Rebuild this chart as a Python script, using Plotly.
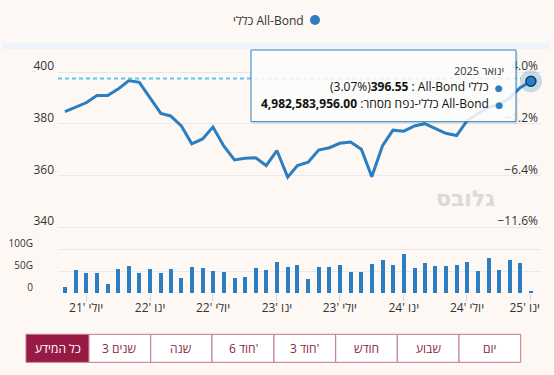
import plotly.graph_objects as go
import pandas as pd

# ---------------- data ----------------
months = pd.date_range("2021-05-01", "2025-01-01", freq="MS")

price = [384.74, 386.5, 388.2, 391.0, 391.0, 393.5, 396.8, 396.1,
         390.2, 384.1, 383.1, 379.2, 372.3, 374.2, 378.8, 371.5, 366.1, 366.7, 366.9, 363.9,
         369.7, 359.4, 363.9, 365.2, 369.9, 370.8, 372.5, 373.0, 370.2, 359.6, 371.6, 377.6,
         377.2, 379.2, 380.1, 378.2, 376.4, 375.5, 381.2, 384.0, 386.5, 387.5, 390.0, 394.0,
         396.55]

volume_g = [14, 52, 45, 45, 21, 54, 62, 45,
            54, 45, 54, 34, 59, 57, 50, 48, 34, 36, 57, 52,
            71, 59, 64, 32, 59, 59, 64, 48, 48, 66, 76, 64,
            88, 57, 68, 61, 61, 64, 71, 50, 80, 52, 76, 69,
            4.982583956]

tick_dates = ["2021-07-01", "2022-01-01", "2022-07-01", "2023-01-01",
              "2023-07-01", "2024-01-01", "2024-07-01", "2025-01-01"]
tick_labels = ["יולי '21", "ינו '22", "יולי '22", "ינו '23",
               "יולי '23", "ינו '24", "יולי '24", "ינו '25"]

price_ticks = [340, 360, 380, 400]
vol_ticks = [0, 50, 100]
vol_tick_labels = ["0", "50G", "100G"]

legend_name = "כללי All-Bond"
tooltip_date = "ינואר 2025"
range_buttons = ["כל המידע", "3 שנים", "שנה", "6 חוד'", "3 חוד'", "חודש", "שבוע", "יום"]
watermark = "גלובס"
crosshair_level = 397.6

# ---------------- styling / geometry ----------------
W, H = 554, 375
ML, MR, MT, MB = 58, 13, 40, 82
PW, PH = W - ML - MR, H - MT - MB
BG = "#fdf8f3"
BLUE = "#2b7ec1"
GRID = "#e6e9ef"
TXT = "#333333"
FONT = "Open Sans, Noto Sans, DejaVu Sans, sans-serif"
LRE, PDF = "\u202a", "\u202c"


def ltr(s):
    return LRE + s + PDF


def px2x(px):
    return (px - ML) / PW


def py2y(py):
    return (H - MB - py) / PH


base = price[0]
pct_labels = [("%.1f%%" % ((v / base - 1) * 100)).replace("-", "\u2212") for v in price_ticks]

# last x label is justified inside the plot (as in the original)
x_ticktext = [ltr(t) for t in tick_labels]
x_ticktext[-1] = ltr(tick_labels[-1] + "\u00a0" * 4)

fig = go.Figure()

fig.add_trace(go.Scatter(x=months, y=price, mode="lines",
                         line=dict(color=BLUE, width=3), xaxis="x", yaxis="y",
                         hoverinfo="skip", showlegend=False))
# invisible companion on the percentage axis so that axis gets drawn
fig.add_trace(go.Scatter(x=months, y=price, mode="lines",
                         line=dict(color="rgba(0,0,0,0)", width=0), xaxis="x", yaxis="y3",
                         hoverinfo="skip", showlegend=False))
fig.add_trace(go.Bar(x=months, y=volume_g, marker=dict(color=BLUE, line=dict(width=0)),
                     width=11.5 * 86400000, xaxis="x2", yaxis="y2",
                     hoverinfo="skip", showlegend=False))
# hovered point halo + marker
fig.add_trace(go.Scatter(x=[months[-1]], y=[price[-1]], mode="markers",
                         marker=dict(size=22, color="rgba(43,126,193,0.25)"),
                         xaxis="x", yaxis="y", hoverinfo="skip", showlegend=False, cliponaxis=False))
fig.add_trace(go.Scatter(x=[months[-1]], y=[price[-1]], mode="markers",
                         marker=dict(size=10, color=BLUE, line=dict(color="#1b3a57", width=1.5)),
                         xaxis="x", yaxis="y", hoverinfo="skip", showlegend=False, cliponaxis=False))

xrange = ["2021-04-11", "2025-01-30"]
yr = [339.34, 412.5]

fig.update_layout(
    width=W, height=H,
    margin=dict(l=ML, r=MR, t=MT, b=MB, pad=0, autoexpand=False),
    paper_bgcolor=BG, plot_bgcolor=BG,
    font=dict(family=FONT, size=12, color=TXT),
    showlegend=False,
    bargap=0,
    xaxis=dict(domain=[0, 1], range=xrange, anchor="y", showticklabels=False,
               showgrid=False, zeroline=False, showline=False, ticks="", automargin=False),
    xaxis2=dict(domain=[0, 1], range=xrange, matches="x", anchor="y2",
                tickvals=tick_dates, ticktext=x_ticktext,
                ticks="outside", ticklen=7, tickcolor="#ccd6eb", tickwidth=1,
                ticklabelstandoff=-3, ticklabeloverflow="allow",
                showgrid=False, zeroline=False, showline=False, automargin=False,
                tickfont=dict(size=12, color=TXT)),
    yaxis=dict(domain=[0.253, 1.0], range=yr, anchor="x",
               tickvals=price_ticks, ticktext=[str(v) for v in price_ticks],
               showgrid=True, gridcolor=GRID, gridwidth=1, zeroline=False, showline=False,
               ticks="", ticklabelstandoff=3, ticklabelshift=-6, automargin=False,
               tickfont=dict(size=12, color=TXT)),
    yaxis3=dict(range=yr, overlaying="y", anchor="x", side="right",
                tickvals=price_ticks, ticktext=pct_labels,
                ticklabelposition="inside", ticklabeloverflow="allow",
                showgrid=False, zeroline=False, showline=False,
                ticks="", ticklabelstandoff=0, ticklabelshift=-6, automargin=False,
                tickfont=dict(size=12, color=TXT)),
    yaxis2=dict(domain=[0, 0.21], range=[0, 121], anchor="x2",
                tickvals=vol_ticks, ticktext=vol_tick_labels,
                showgrid=True, gridcolor=GRID, gridwidth=1, zeroline=False, showline=False,
                ticks="", ticklabelstandoff=24, ticklabelshift=-6, automargin=False,
                tickfont=dict(size=10, color=TXT)),
)

shapes = []
annotations = []

# light strip at top
shapes.append(dict(type="rect", xref="paper", yref="paper",
                   x0=px2x(2), x1=px2x(550), y0=py2y(49), y1=py2y(43),
                   fillcolor="#eef4fb", line=dict(width=0), layer="below"))

# crosshair dashed line
shapes.append(dict(type="line", xref="paper", yref="y", x0=0, x1=px2x(521),
                   y0=crosshair_level, y1=crosshair_level,
                   line=dict(color="#5cc8f0", width=2, dash="4px,3px"), layer="above"))

# tooltip box (shadow + box)
shapes.append(dict(type="rect", xref="paper", yref="paper",
                   x0=px2x(253), x1=px2x(518), y0=py2y(123.7), y1=py2y(52),
                   fillcolor="rgba(0,0,0,0.07)", line=dict(width=0), layer="above"))
shapes.append(dict(type="rect", xref="paper", yref="paper",
                   x0=px2x(251), x1=px2x(516), y0=py2y(121.7), y1=py2y(50),
                   fillcolor="rgba(255,255,255,0.86)", line=dict(color=BLUE, width=1), layer="above"))

last_pct = (price[-1] / base - 1) * 100
dot = '<span style="color:%s;font-size:9px">\u25cf</span>' % BLUE
annotations.append(dict(xref="paper", yref="paper", x=px2x(506), y=py2y(70.7),
                        xanchor="right", yanchor="middle", showarrow=False,
                        text=ltr(tooltip_date), font=dict(size=11, color=TXT)))
annotations.append(dict(xref="paper", yref="paper", x=px2x(505), y=py2y(86.5),
                        xanchor="right", yanchor="middle", showarrow=False,
                        text=ltr("(%.2f%%)<b>%.2f</b> : All-Bond כללי  " % (last_pct, price[-1])) + dot,
                        font=dict(size=12, color="#111")))
annotations.append(dict(xref="paper", yref="paper", x=px2x(505), y=py2y(103.5),
                        xanchor="right", yanchor="middle", showarrow=False,
                        text=ltr("<b>%s</b> :כללי-נפח מסחר All-Bond  " % format(volume_g[-1] * 1e9, ",.2f")) + dot,
                        font=dict(size=12, color="#111")))

# legend (RTL style: dot on right)
annotations.append(dict(xref="paper", yref="paper", x=px2x(306), y=py2y(20),
                        xanchor="right", yanchor="middle", showarrow=False,
                        text=ltr(legend_name), font=dict(size=12, color=TXT)))
shapes.append(dict(type="circle", xref="paper", yref="paper",
                   x0=px2x(310), x1=px2x(320), y0=py2y(25), y1=py2y(15),
                   fillcolor=BLUE, line=dict(width=0)))

# watermark
annotations.append(dict(xref="paper", yref="paper", x=px2x(465), y=py2y(199),
                        xanchor="center", yanchor="middle", showarrow=False,
                        text="<b>%s</b>" % watermark,
                        font=dict(size=22, color="#dcd9d6", family="DejaVu Sans, sans-serif")))

# range selector buttons
edges = [26, 89, 150.7, 212, 274, 335.7, 397.3, 459, 520.7]
by0, by1 = 334.3, 362.3
for i, lab in enumerate(range_buttons):
    sel = i == 0
    shapes.append(dict(type="rect", xref="paper", yref="paper",
                       x0=px2x(edges[i]), x1=px2x(edges[i + 1]), y0=py2y(by1), y1=py2y(by0),
                       fillcolor="#971a44" if sel else "#ffffff",
                       line=dict(color="#c4758f", width=1)))
    annotations.append(dict(xref="paper", yref="paper",
                            x=px2x((edges[i] + edges[i + 1]) / 2), y=py2y((by0 + by1) / 2),
                            xanchor="center", yanchor="middle", showarrow=False,
                            text=ltr(lab), font=dict(size=12, color="#ffffff" if sel else "#8a1f45")))

fig.update_layout(shapes=shapes, annotations=annotations)

fig.write_html("out.html", config={"displayModeBar": False},
               post_script="document.body.style.margin='0';document.body.style.background='%s';" % BG)
